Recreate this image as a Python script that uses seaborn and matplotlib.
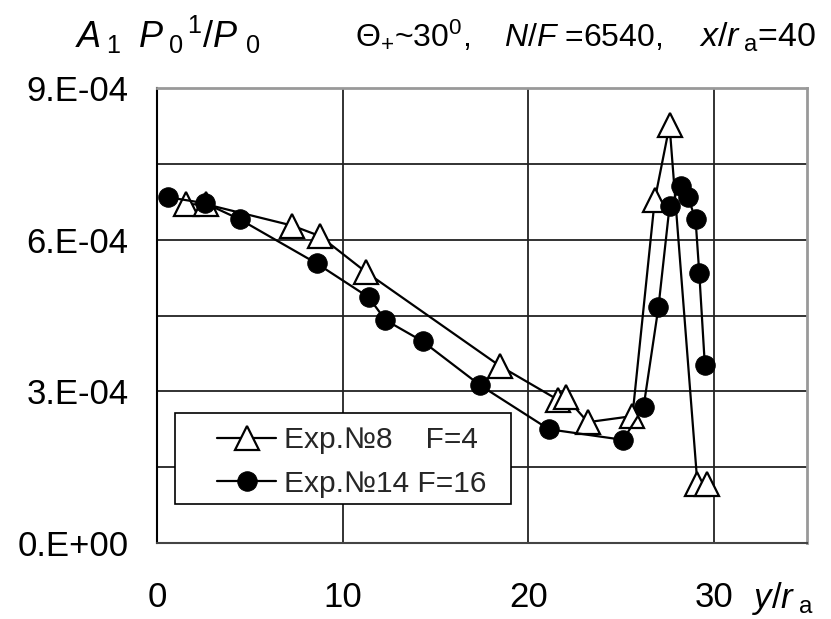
import numpy as np
import pandas as pd
import matplotlib
matplotlib.use("Agg")
import matplotlib.pyplot as plt
from matplotlib.ticker import FixedLocator, FixedFormatter
from matplotlib.patches import Rectangle
import seaborn as sns

# ---- data ----
exp8_x = [1.56, 2.64, 7.27, 8.78, 11.25, 18.47, 21.6, 22.0, 23.2, 25.6, 26.8, 27.6, 29.1, 29.6]
exp8_y = [6.70e-4, 6.70e-4, 6.28e-4, 6.07e-4, 5.36e-4, 3.50e-4, 2.83e-4, 2.89e-4,
          2.39e-4, 2.51e-4, 6.78e-4, 8.26e-4, 1.17e-4, 1.17e-4]
exp14_x = [0.6, 2.6, 4.47, 8.6, 11.4, 12.3, 14.3, 17.4, 21.1, 25.1, 26.2, 27.0,
           27.6, 28.2, 28.6, 29.0, 29.2, 29.5]
exp14_y = [6.84e-4, 6.72e-4, 6.40e-4, 5.53e-4, 4.86e-4, 4.41e-4, 3.99e-4, 3.12e-4,
           2.25e-4, 2.04e-4, 2.69e-4, 4.66e-4, 6.66e-4, 7.07e-4, 6.84e-4, 6.40e-4,
           5.34e-4, 3.52e-4]
series_labels = ["Exp.№8    F=4", "Exp.№14 F=16"]
x_ticks = [0, 10, 20, 30]
x_tick_labels = ["0", "10", "20", "30"]
y_ticks = [0.0, 3e-4, 6e-4, 9e-4]
y_tick_labels = ["0.E+00", "3.E-04", "6.E-04", "9.E-04"]
y_grid_minor = [1.5e-4, 4.5e-4, 7.5e-4]

sns.set_theme(style="white")
plt.rcParams["font.family"] = ["Liberation Sans", "DejaVu Sans"]
plt.rcParams["mathtext.fontset"] = "custom"
plt.rcParams["mathtext.rm"] = "Liberation Sans"
plt.rcParams["mathtext.it"] = "Liberation Sans:italic"

fig = plt.figure(figsize=(8.31, 6.19), dpi=100)
ax = fig.add_axes([0.1889, 0.1228, 0.9711 - 0.1889, 0.8578 - 0.1228])

df8 = pd.DataFrame({"x": exp8_x, "y": exp8_y})
df14 = pd.DataFrame({"x": exp14_x, "y": exp14_y})

sns.lineplot(data=df8, x="x", y="y", ax=ax, sort=False, estimator=None,
             color="black", lw=1.6, marker="^", markersize=17,
             markerfacecolor="white", markeredgecolor="black", markeredgewidth=1.6,
             label=series_labels[0], zorder=4)
sns.lineplot(data=df14, x="x", y="y", ax=ax, sort=False, estimator=None,
             color="black", lw=1.6, marker="o", markersize=14,
             markerfacecolor="black", markeredgecolor="black",
             label=series_labels[1], zorder=5)

ax.set_xlim(0, 35)
ax.set_ylim(0, 9e-4)
ax.xaxis.set_major_locator(FixedLocator(x_ticks))
ax.xaxis.set_major_formatter(FixedFormatter(x_tick_labels))
ax.yaxis.set_major_locator(FixedLocator(y_ticks))
ax.yaxis.set_major_formatter(FixedFormatter(y_tick_labels))
ax.yaxis.set_minor_locator(FixedLocator(y_grid_minor))

ax.grid(True, which="both", axis="y", color="#222222", lw=1.3)
ax.grid(True, which="major", axis="x", color="#222222", lw=1.3)
ax.set_axisbelow(True)

ax.tick_params(axis="both", which="major", direction="out", length=7.5, width=1.2,
               color="black", labelsize=25, labelcolor="black")
ax.tick_params(axis="y", which="major", pad=13)
ax.tick_params(axis="x", which="major", pad=20)
ax.tick_params(axis="y", which="minor", length=0)

for side in ["top", "right"]:
    ax.spines[side].set_color("#999999")
    ax.spines[side].set_linewidth(2)
ax.spines["left"].set_color("black")
ax.spines["left"].set_linewidth(1.5)
ax.spines["bottom"].set_color("#444444")
ax.spines["bottom"].set_linewidth(1.5)

ax.set_xlabel("")
ax.set_ylabel("")

# legend box (frame drawn separately for the wide left padding of the original)
box = Rectangle((0.0277, 0.0857), 0.5169, 0.2, transform=ax.transAxes,
                facecolor="white", edgecolor="black", lw=1.2, zorder=6)
ax.add_patch(box)
leg = ax.legend(loc="upper left", bbox_to_anchor=(0.092, 0.257), fontsize=21.5,
                frameon=False, handlelength=2.0, handletextpad=0.25, borderpad=0,
                labelspacing=0.53, borderaxespad=0)
leg.set_zorder(7)

fig.text(0.09, 0.943, r"$A_{\;1}\;\;P_{\;0}{}^{\,1}/P_{\;\,0}$", fontsize=26,
         ha="left", va="center", color="black")
fig.text(0.427, 0.925, r"$\mathit{Θ}_{+}$~30$^{0}$,", fontsize=23,
         ha="left", va="baseline", color="black")
fig.text(0.607, 0.925, r"$N/F$ =6540,", fontsize=23,
         ha="left", va="baseline", color="black")
fig.text(0.841, 0.925, r"$x/r_{\;\rm a}$=40", fontsize=24.5,
         ha="left", va="baseline", color="black")
fig.text(0.905, 0.018, r"$y/r_{\;\rm a}$", fontsize=25, ha="left", va="baseline",
         color="black")

fig.savefig("out.png", dpi=100)
